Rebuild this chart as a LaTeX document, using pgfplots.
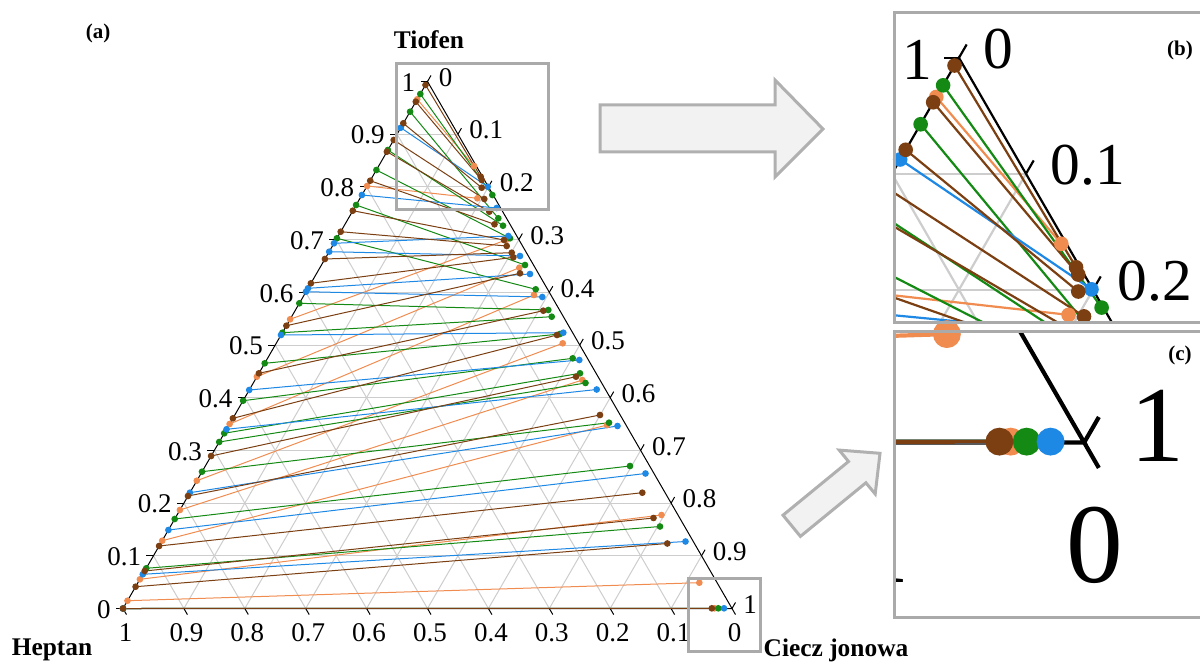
\documentclass[border=0pt]{standalone}
\usepackage{fontspec}
\setmainfont{Liberation Serif}
\usepackage{pgfplots}
\pgfplotsset{compat=1.18}
\usepackage{pgfplotstable}

\definecolor{cbrown}{HTML}{7B3F12}
\definecolor{corange}{HTML}{F08C50}
\definecolor{cgreen}{HTML}{148A14}
\definecolor{cblue}{HTML}{1E88E5}
\definecolor{cgrid}{HTML}{CDCDCD}
\definecolor{cframe}{HTML}{AAAAAA}
\definecolor{carrowfill}{HTML}{F2F2F2}
\definecolor{carrowdraw}{HTML}{B0B0B0}

\newcommand\tlab[1]{\ifcase#1 0\or 0.1\or 0.2\or 0.3\or 0.4\or 0.5\or 0.6\or 0.7\or 0.8\or 0.9\or 1\fi}

% tie lines, in picture coordinates (pixels of the 1200x664 picture)
\pgfplotstableread{
x y
417.2 99.3
474 166
nan nan
367.1 186
477.3 198.3
nan nan
290.1 319.3
506 240
nan nan
256.9 376.7
519.3 267.7
nan nan
229.6 424
534 295
nan nan
196.8 480.7
562.7 343.3
nan nan
179.9 510
582.3 380
nan nan
162.2 540.7
607 425
nan nan
139.9 579.3
661.5 515
nan nan
127.5 600.7
699.3 582.7
nan nan
123 608.5
714.5 608.3
}\torange

\pgfplotstableread{
x y
425.5 85
480.7 176.7
nan nan
415.8 101.7
481.7 180
nan nan
403.3 123.3
481.7 187.7
nan nan
393.7 140
484.3 199
nan nan
386.9 151.7
489.3 211.7
nan nan
370.2 180.7
494.5 224.3
nan nan
352.8 210.7
504 240
nan nan
340.7 231.7
506.7 246
nan nan
324.9 259
511.7 252.7
nan nan
310.9 283.3
513.3 257.3
nan nan
286.4 325.7
520 273.3
nan nan
258.9 373.3
543.3 310.7
nan nan
232.9 418.3
557 335
nan nan
211.1 456
576 376.7
nan nan
188.0 496
600 415
nan nan
159.1 546
642.3 492.7
nan nan
144.7 571
653.5 518
nan nan
135.6 586.7
667.3 543.5
nan nan
123 608.5
711.8 608.3
}\tbrown

\pgfplotstableread{
x y
420.3 94
492.3 195
nan nan
410.1 111.7
498.3 218.3
nan nan
387.9 150
503 225.7
nan nan
376.4 170
510 238.3
nan nan
356.1 205
525 265
nan nan
336.9 238.3
535.7 289.3
nan nan
299.3 303.3
548.3 310
nan nan
282.4 332.7
551.7 316.7
nan nan
264.7 363.3
560 334
nan nan
243.1 400.7
572.7 358.3
nan nan
224.2 433.3
580 373.3
nan nan
219.2 442
585.5 383
nan nan
202.0 471.7
609 422.7
nan nan
174.7 519
630 466
nan nan
146.2 568.3
660 526.5
nan nan
123 608.5
718.3 608.3
}\tgreen

\pgfplotstableread{
x y
400.8 127.7
487.7 186.7
nan nan
361.9 195
496.7 208
nan nan
334.0 243.3
508.3 236
nan nan
329.2 251.7
520 256
nan nan
308.0 288.3
530 274
nan nan
306.0 291.7
542.3 297
nan nan
281.0 335
563.3 332.7
nan nan
249.2 390
579.3 360
nan nan
226.5 429.3
596.7 389.5
nan nan
189.9 492.7
617.5 426
nan nan
168.4 530
645.5 473.5
nan nan
142.8 574.3
685.5 541.5
nan nan
123 608.5
724 608.3
}\tblue

% tick labels: #1 = index 0..10, #2 = font size (pt)
\newcommand\labL[2]{\node[anchor=east, inner sep=0pt, font=\fontsize{#2pt}{#2pt}\selectfont] at (axis cs:{111+30.45*#1},{609.5-52.7*#1}) {\tlab{#1}};}
\newcommand\labR[2]{\node[anchor=west, inner sep=0pt, font=\fontsize{#2pt}{#2pt}\selectfont] at (axis cs:{438.5+30.45*#1},{77.5+52.7*#1}) {\tlab{#1}};}
\newcommand\labB[2]{\node[anchor=center, inner sep=0pt, font=\fontsize{#2pt}{#2pt}\selectfont] at (axis cs:{734.5-60.9*#1},633) {\tlab{#1}};}

% #1 mark size (pt), #2 line width (pt)
\newcommand\scene[2]{%
  \pgfplotsinvokeforeach{1,...,9}{%
    \draw[cgrid, line width=#2pt] (axis cs:{123+30.45*##1},{608.5-52.7*##1}) -- (axis cs:{732-30.45*##1},{608.5-52.7*##1});
    \draw[cgrid, line width=#2pt] (axis cs:{123+60.9*##1},608.5) -- (axis cs:{427.5+30.45*##1},{81.5+52.7*##1});
    \draw[cgrid, line width=#2pt] (axis cs:{732-60.9*##1},608.5) -- (axis cs:{427.5-30.45*##1},{81.5+52.7*##1});
  }%
  \draw[black, line width=#2pt] (axis cs:123,608.5) -- (axis cs:427.5,81.5) -- (axis cs:732,608.5) -- cycle;
  \pgfplotsinvokeforeach{0,...,10}{%
    \draw[black, line width=#2pt] (axis cs:{123+30.45*##1},{608.5-52.7*##1}) -- (axis cs:{116+30.45*##1},{608.5-52.7*##1});
    \draw[black, line width=#2pt] (axis cs:{427.5+30.45*##1},{81.5+52.7*##1}) -- (axis cs:{431+30.45*##1},{75.44+52.7*##1});
    \draw[black, line width=#2pt] (axis cs:{732-60.9*##1},608.5) -- (axis cs:{735.5-60.9*##1},614.56);
  }%
  \addplot[corange, line width=#2pt, mark=*, mark size=#1pt, mark options={draw=none, fill=corange}, unbounded coords=jump] table {\torange};
  \addplot[cgreen, line width=#2pt, mark=*, mark size=#1pt, mark options={draw=none, fill=cgreen}, unbounded coords=jump] table {\tgreen};
  \addplot[cblue, line width=#2pt, mark=*, mark size=#1pt, mark options={draw=none, fill=cblue}, unbounded coords=jump] table {\tblue};
  \addplot[cbrown, line width=#2pt, mark=*, mark size=#1pt, mark options={draw=none, fill=cbrown}, unbounded coords=jump] table {\tbrown};
}

\begin{document}
\begin{tikzpicture}
% main ternary diagram (a)
\begin{axis}[at={(0pt,0pt)}, anchor=south west, scale only axis,
  width=600pt, height=332pt, xmin=0, xmax=1200, ymin=0, ymax=664,
  y dir=reverse, hide axis, clip=false]
\scene{1.4}{0.5}
\pgfplotsinvokeforeach{0,...,10}{\labL{#1}{13.5}\labR{#1}{13.5}\labB{#1}{13.5}}
\end{axis}
% inset (b)
\begin{axis}[at={(447pt,170.5pt)}, anchor=south west, scale only axis,
  width=153pt, height=155.15pt, xmin=398, xmax=537, ymin=61, ymax=202,
  y dir=reverse, hide axis]
\scene{3.1}{1.1}
\labL{10}{29.7}
\labR{0}{29.7}
\labR{1}{29.7}
\labR{2}{29.7}
\end{axis}
% inset (c)
\begin{axis}[at={(447pt,23pt)}, anchor=south west, scale only axis,
  width=153pt, height=143pt, xmin=686.7, xmax=759.6, ymin=582.2, ymax=650.3,
  y dir=reverse, hide axis]
\scene{5.9}{2.1}
\labR{10}{54}
\labB{0}{56.7}
\labB{1}{56.7}
\end{axis}
% decorations in picture pixel coordinates
\begin{scope}[x=0.5pt, y=-0.5pt, shift={(0pt,332pt)}]
  \draw[cframe, line width=1.5pt] (396,64) rectangle (548,210);
  \draw[cframe, line width=1.5pt] (688,579) rectangle (760,652);
  \draw[cframe, line width=1.5pt] (1210,12.7) -- (894,12.7) -- (894,323) -- (1210,323);
  \draw[cframe, line width=1.5pt] (1210,332) -- (894,332) -- (894,618) -- (1210,618);
  \draw[carrowdraw, fill=carrowfill, line width=1.5pt, line join=miter]
    (600,105) -- (775,105) -- (775,80) -- (823,129) -- (775,177) -- (775,152) -- (600,152) -- cycle;
  \draw[carrowdraw, fill=carrowfill, line width=1.5pt, line join=miter]
    (783.0,515.2) -- (848.5,461.5) -- (839.2,450.1) -- (880,453.3) -- (875.2,494.0) -- (865.9,482.8) -- (800.4,536.4) -- cycle;
  \node[font=\bfseries\fontsize{10.5}{12}\selectfont] at (98,33) {(a)};
  \node[font=\bfseries\fontsize{10.5}{12}\selectfont] at (1180,50) {(b)};
  \node[font=\bfseries\fontsize{10.5}{12}\selectfont] at (1180,355) {(c)};
  \node[font=\bfseries\fontsize{12.7}{14}\selectfont] at (429,40) {Tiofen};
  \node[font=\bfseries\fontsize{12.7}{14}\selectfont] at (52,650) {Heptan};
  \node[font=\bfseries\fontsize{12.7}{14}\selectfont] at (836,650) {Ciecz jonowa};
\end{scope}
\pgfresetboundingbox
\path[use as bounding box] (0pt,0pt) rectangle (600pt,332pt);
\end{tikzpicture}
\end{document}
